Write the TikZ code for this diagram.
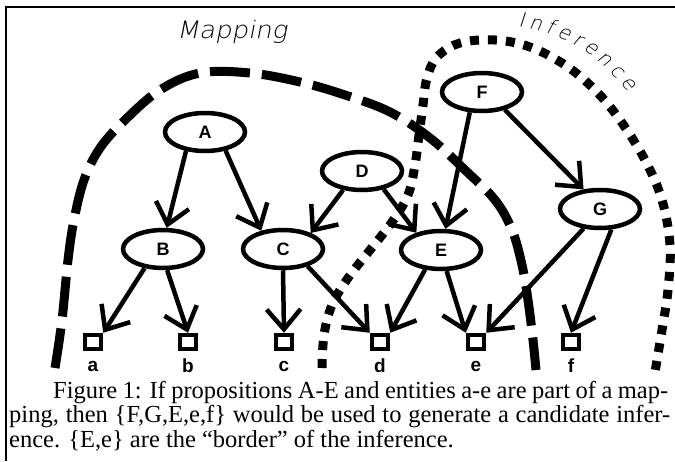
\documentclass[tikz,border=0pt]{standalone}
\usepackage{fontspec}
\usepackage{graphicx}
\setmainfont{Liberation Serif}
\newfontfamily\lblfont{Liberation Sans}
\newfontfamily\handfont[FakeSlant=0.18]{DejaVu Sans ExtraLight}
\usetikzlibrary{arrows.meta,decorations.text,shapes.geometric}

\begin{document}
\begin{tikzpicture}[x=1pt,y=-1pt,
  prop/.style={ellipse, draw, line width=4.5pt, minimum width=80pt,
    minimum height=38pt, inner sep=0pt,
    font=\lblfont\bfseries\fontsize{18}{18}\selectfont},
  ent/.style={rectangle, draw, line width=4.5pt, minimum width=16pt,
    minimum height=14pt, inner sep=0pt},
  lab/.style={inner sep=0pt, font=\lblfont\bfseries\fontsize{19}{19}\selectfont},
  rel/.style={line width=4.5pt, -{Straight Barb[length=20pt,width=34pt]}},
  mapline/.style={line width=9pt, dash pattern=on 40pt off 12pt},
  infline/.style={line width=9pt, dash pattern=on 9pt off 9pt},
  captxt/.style={anchor=base west, inner sep=0pt,
    font=\fontsize{24.5}{24.5}\selectfont},
  hand/.style={inner sep=0pt, font=\handfont\fontsize{24}{24}\selectfont}
]
\useasboundingbox (0,0) rectangle (675,461);

% frame
\draw[line width=1.3pt] (6,461) -- (6,7) -- (675,7);

% propositions
\node[prop] (A) at (205,132) {A};
\node[prop] (B) at (163,249) {B};
\node[prop] (C) at (283,249) {C};
\node[prop] (D) at (362,171) {D};
\node[prop] (E) at (441,250) {E};
\node[prop] (F) at (482,92)  {F};
\node[prop] (G) at (600,209) {G};

% entities
\node[ent] (a) at (93,342)  {};
\node[ent] (b) at (188,342) {};
\node[ent] (c) at (284,342) {};
\node[ent] (d) at (380,342) {};
\node[ent] (e) at (476,342) {};
\node[ent] (f) at (571,342) {};

\node[lab] (la) at (93,366)  {a};
\node[lab] (lb) at (188,366) {b};
\node[lab] (lc) at (284,366) {c};
\node[lab] (ld) at (380,366) {d};
\node[lab] (le) at (476,366) {e};
\node[lab] (lf) at (571,366) {f};

% relations
\draw[rel] (A.225) -- (B.80);
\draw[rel] (A.318) -- (C.140);
\draw[rel] (D.225) -- (C.30);
\draw[rel] (D.320) -- (E.145);
\draw[rel] (F.239) -- (E.78);
\draw[rel] (F.322) -- (G.130);
\draw[rel] (B.226) -- (a.north east);
\draw[rel] (B.281) -- (b.north);
\draw[rel] (C.south) -- (c.north);
\draw[rel] (C.325) -- (d.north west);
\draw[rel] (E.231) -- (d.north east);
\draw[rel] (E.285) -- (e.north west);
\draw[rel] (G.230) -- (e.north east);
\draw[rel] (G.299) -- (f.north);

% mapping boundary
\draw[mapline] plot[smooth, tension=0.6] coordinates {
  (55,368) (62,320) (68,260) (74,220) (84,180) (100,148) (125,120)
  (160,90) (200,73) (250,73) (300,82) (345,95) (390,112) (430,138)
  (465,170) (495,200) (512,230) (522,265) (528,300) (533,340) (536,370)};

% inference boundary
\draw[infline] plot[smooth, tension=0.6] coordinates {
  (322,368) (324,335) (332,305) (348,278) (370,250) (392,222) (408,195)
  (415,165) (419,135) (423,105) (427,78) (437,57) (460,43) (495,40)
  (530,47) (565,65) (595,90) (620,120) (645,160) (662,200) (670,245)
  (668,290) (662,330) (655,372)};

% region names
\node[hand, anchor=base] (mapname) at (232,38) {\scalebox{1.08}[1]{Mapping}};
\path[decorate, decoration={text along path,
    text={|\handfont\fontsize{20}{20}\selectfont|Inference},
    text align=fit to path}]
  (518,27) .. controls (562,32) and (600,55) .. (628,92);

% caption
\node[captxt] (cap1) at (53,398)
  {\makebox[615pt][s]{Figure 1: If propositions A-E and entities a-e are part of a map-}};
\node[captxt] (cap2) at (9,422)
  {\makebox[661pt][s]{ping, then \{F,G,E,e,f\} would be used to generate a candidate infer-}};
\node[captxt] (cap3) at (9,447)
  {ence. \{E,e\} are the “border” of the inference.};
\end{tikzpicture}
\end{document}
